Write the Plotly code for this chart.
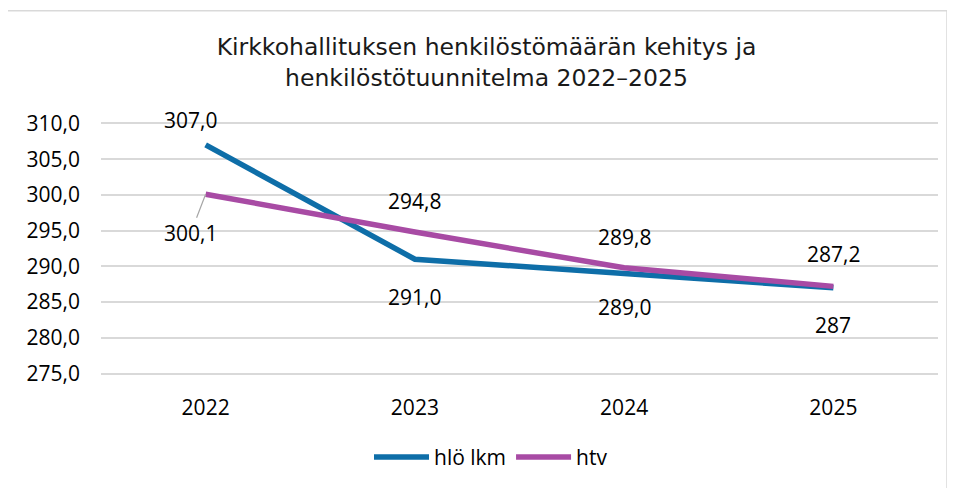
import plotly.graph_objects as go

# ---- data ----
years = ["2022", "2023", "2024", "2025"]
hlo_lkm = [307.0, 291.0, 289.0, 287.0]
htv = [300.1, 294.8, 289.8, 287.2]
hlo_labels = ["307,0", "291,0", "289,0", "287"]
htv_labels = ["300,1", "294,8", "289,8", "287,2"]
y_ticks = [275, 280, 285, 290, 295, 300, 305, 310]
title_text = "Kirkkohallituksen henkilöstömäärän kehitys ja<br>henkilöstötuunnitelma 2022\u20132025"

# ---- style ----
BLUE = "#0E6EA8"
PURPLE = "#A84BA4"
GRID = "#D9D9D9"
TXT = "#000000"
LABEL_FONT = "Open Sans"
TITLE_FONT = "DejaVu Sans"
FS = 21

# label offsets in pixels (xshift, yshift)
hlo_shift = [(-15, 25), (0, -38), (0, -33), (0, -37)]
htv_shift = [(-15, -39), (0, 31), (0, 31), (0, 32)]

# page offset (default body margin of the html page)
OFF = 8
W, H = 955 - OFF, 488 - OFF
# plot area in absolute page pixels (slight padding so edge gridlines are drawn)
PAD = 0.2
PXU = (374 - 123) / 35.0
PX0, PX1 = 101, 938
PY0, PY1 = 123 - PAD * PXU, 374 + PAD * PXU
L, R, T, B = PX0 - OFF, W - (PX1 - OFF), PY0 - OFF, H - (PY1 - OFF)
pw, ph = PX1 - PX0, PY1 - PY0


def px_x(px):
    return (px - PX0) / pw


def px_y(py):
    return (PY1 - py) / ph


fig = go.Figure()
fig.add_trace(go.Scatter(x=years, y=hlo_lkm, mode="lines", name="hlö lkm",
                         line=dict(color=BLUE, width=5.5)))
fig.add_trace(go.Scatter(x=years, y=htv, mode="lines", name="htv",
                         line=dict(color=PURPLE, width=5.5)))

annotations = []
for i, (v, t, (dx, dy)) in enumerate(zip(hlo_lkm, hlo_labels, hlo_shift)):
    annotations.append(dict(x=i, y=v, xref="x", yref="y", text=t, showarrow=False,
                            xshift=dx, yshift=dy,
                            font=dict(family=LABEL_FONT, size=FS, color=TXT)))
for i, (v, t, (dx, dy)) in enumerate(zip(htv, htv_labels, htv_shift)):
    if i == 0:
        annotations.append(dict(x=i, y=v, xref="x", yref="y", text=t, showarrow=True,
                                ax=dx, ay=-dy, arrowhead=0, arrowwidth=1.2,
                                arrowcolor="#A6A6A6", standoff=0,
                                font=dict(family=LABEL_FONT, size=FS, color=TXT)))
    else:
        annotations.append(dict(x=i, y=v, xref="x", yref="y", text=t, showarrow=False,
                                xshift=dx, yshift=dy,
                                font=dict(family=LABEL_FONT, size=FS, color=TXT)))

fig.update_layout(
    width=W, height=H,
    margin=dict(l=L, r=R, t=T, b=B, autoexpand=False),
    paper_bgcolor="white", plot_bgcolor="white",
    separators=", ",
    title=dict(text=title_text, x=(486.5 - OFF) / W, xanchor="center", xref="container",
               y=1 - (55 - OFF) / H, yanchor="middle", yref="container",
               font=dict(family=TITLE_FONT, size=23.5, color="#1a1a1a")),
    showlegend=True,
    legend=dict(orientation="h", x=px_x(491), xanchor="center", y=px_y(458), yanchor="middle",
                font=dict(family=LABEL_FONT, size=FS, color=TXT),
                itemwidth=55, bgcolor="rgba(0,0,0,0)"),
    annotations=annotations,
    shapes=[dict(type="rect", xref="paper", yref="paper",
                 x0=px_x(6), x1=px_x(947), y0=px_y(500), y1=px_y(10),
                 line=dict(color="#D9D9D9", width=1.5), layer="below")],
    xaxis=dict(type="category", categoryorder="array", categoryarray=years,
               range=[-0.5, len(years) - 0.5], autorange=False,
               showgrid=False, showline=False, zeroline=False,
               ticks="", ticklabelstandoff=18,
               tickfont=dict(family=LABEL_FONT, size=FS, color=TXT)),
    yaxis=dict(range=[275 - PAD, 310 + PAD], autorange=False, tickvals=y_ticks, tickformat=".1f",
               showgrid=True, gridcolor=GRID, gridwidth=1.5,
               showline=False, zeroline=False, ticks="", ticklabelstandoff=20,
               tickfont=dict(family=LABEL_FONT, size=FS, color=TXT)),
)

fig.write_html("out.html")
